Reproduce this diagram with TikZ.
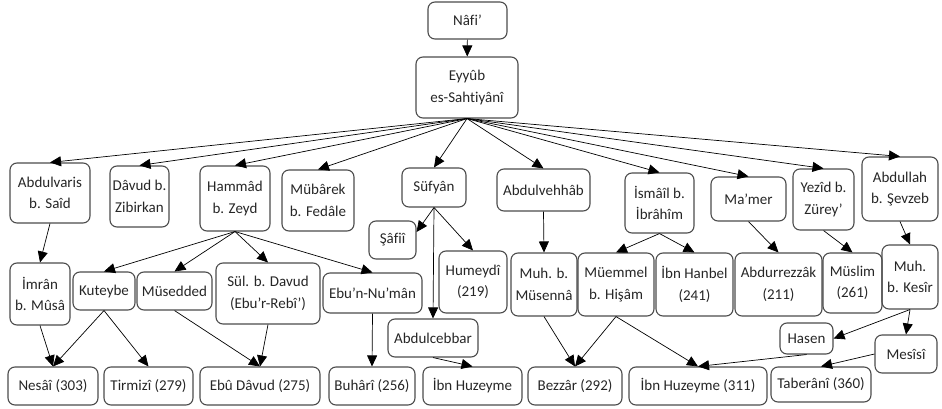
\documentclass[tikz,border=0pt]{standalone}
\usepackage{fontspec}
\setmainfont{Carlito}[Ligatures=NoCommon]
\usetikzlibrary{arrows.meta}

\begin{document}
\begin{tikzpicture}[x=1pt,y=-1pt,
  font=\fontsize{15}{21.5}\selectfont,
  box/.style={draw=black!70, line width=1.1pt, rounded corners=7pt, align=center, inner sep=2pt, text=black!85},
  sz/.style 2 args={minimum width=#1pt, minimum height=#2pt},
  link/.style={-{Triangle[length=11pt,width=10pt]}, line width=0.7pt}]
\useasboundingbox (0,0) rectangle (942,409);

%----------------------------
% Top: Nafi and Eyyub
%----------------------------
\node[box,sz={79}{37}] (nafi) at (467.5,20.5) {Nâfi’};
\node[box,sz={102}{61}] (eyyub) at (467,87.5) {Eyyûb\\es-Sahtiyânî};

%----------------------------
% Second row: students of Eyyub
%----------------------------
\node[box,sz={80}{60}] (abdulvaris) at (50,193) {Abdulvaris\\b. Saîd};
\node[box,sz={59}{61}] (davud) at (139.5,196.5) {Dâvud b.\\Zibirkan};
\node[box,sz={70}{65}] (hammad) at (235,198.5) {Hammâd\\b. Zeyd};
\node[box,sz={72}{61}] (mubarek) at (318,200.5) {Mübârek\\b. Fedâle};
\node[box,sz={64}{39}] (sufyan) at (434,187.5) {Süfyân};
\node[box,sz={93}{42}] (abdulvehhab) at (543.5,190) {Abdulvehhâb};
\node[box,sz={69}{60}] (ismail) at (659.5,203) {İsmâîl b.\\İbrâhîm};
\node[box,sz={75}{44}] (mamer) at (748.5,199) {Ma’mer};
\node[box,sz={61}{61}] (yezid) at (823.5,199.5) {Yezîd b.\\Zürey’};
\node[box,sz={76}{64}] (abdullah) at (900,189) {Abdullah\\b. Şevzeb};

%----------------------------
% Third row
%----------------------------
\node[box,sz={60}{62}] (imran) at (40,294) {İmrân\\b. Mûsâ};
\node[box,sz={62}{38}] (kuteybe) at (104,291) {Kuteybe};
\node[box,sz={75}{38}] (musedded) at (174.5,291) {Müsedded};
\node[box,sz={104}{61}] (sul) at (268,293.5) {Sül. b. Davud\\(Ebu’r-Rebî’)};
\node[box,sz={99}{40}] (ebunuman) at (372.5,293) {Ebu’n-Nu’mân};
\node[box,sz={47}{38}] (safii) at (392.5,240) {Şâfiî};
\node[box,sz={68}{62}] (humeydi) at (473,282) {Humeydî\\(219)};
\node[box,sz={66}{63}] (musenna) at (544,284.5) {Muh. b.\\Müsennâ};
\node[box,sz={76}{63}] (muemmel) at (616,284.5) {Müemmel\\b. Hişâm};
\node[box,sz={77}{63}] (hanbel) at (694.5,284.5) {İbn Hanbel\\(241)};
\node[box,sz={87}{63}] (abdurrezzak) at (778.5,284.5) {Abdurrezzâk\\(211)};
\node[box,sz={59}{60}] (muslim) at (852.5,283) {Müslim\\(261)};
\node[box,sz={56}{64}] (kesir) at (910,277) {Muh.\\b. Kesîr};

% in between
\node[box,sz={90}{38}] (abdulcebbar) at (433,338) {Abdulcebbar};
\node[box,sz={53}{31},text depth=-4pt] (hasen) at (806.5,338.5) {Hasen};
\node[box,sz={62}{38}] (mesisi) at (906,354) {Mesîsî};

%----------------------------
% Bottom row: collectors
%----------------------------
\node[box,sz={90}{38}] (nesai) at (53,386) {Nesâî (303)};
\node[box,sz={89}{38}] (tirmizi) at (148.5,386) {Tirmizî (279)};
\node[box,sz={120}{38}] (ebudavud) at (260,386) {Ebû Dâvud (275)};
\node[box,sz={86}{38}] (buhari) at (372,386) {Buhârî (256)};
\node[box,sz={99}{38}] (huzeyme) at (472.5,386) {İbn Huzeyme};
\node[box,sz={94}{38}] (bezzar) at (575,386) {Bezzâr (292)};
\node[box,sz={138}{38}] (huzeymeb) at (698,386) {İbn Huzeyme (311)};
\node[box,sz={100}{35}] (taberani) at (821,384.5) {Taberânî (360)};

%----------------------------
% Arrows
%----------------------------
\draw[link] (nafi) -- (eyyub);
\foreach \t in {abdulvaris,davud,hammad,mubarek,sufyan,abdulvehhab,ismail,mamer,yezid,abdullah}
  \draw[link] (eyyub.south) -- (\t.north);

\draw[link] (abdulvaris.south) -- (imran.north);
\foreach \t in {kuteybe,musedded,sul,ebunuman}
  \draw[link] (hammad.south) -- (\t.north);
\draw[link] (sufyan.south) -- ([yshift=8pt]safii.east);
\draw[link] (sufyan.south) -- (humeydi.north);
\draw[link] (sufyan.south) -- (abdulcebbar.north);
\draw[link] (abdulvehhab.south) -- (musenna.north);
\draw[link] (ismail.south) -- (muemmel.north);
\draw[link] (ismail.south) -- (hanbel.north);
\draw[link] (mamer.south) -- (abdurrezzak.north);
\draw[link] (yezid.south) -- (muslim.north);
\draw[link] (abdullah.south) -- (kesir.north);

\draw[link] (imran.south) -- (nesai.north);
\draw[link] (kuteybe.south) -- (nesai.north);
\draw[link] (kuteybe.south) -- (tirmizi.north);
\draw[link] (musedded.south) -- (ebudavud.north);
\draw[link] (sul.south) -- (ebudavud.north);
\draw[link] (ebunuman.south) -- (buhari.north);
\draw[link] (abdulcebbar.south) -- (huzeyme.north);
\draw[link] (musenna.south) -- (bezzar.north);
\draw[link] (muemmel.south) -- (bezzar.north);
\draw[link] (muemmel.south) -- (huzeymeb.north);
\draw[link] (kesir.south) -- (hasen.east);
\draw[link] (kesir.south) -- (mesisi.north);
\draw[link] (hasen.south) -- (huzeymeb.north);
\draw[link] (mesisi.west) -- (taberani.north);

\end{tikzpicture}
\end{document}
